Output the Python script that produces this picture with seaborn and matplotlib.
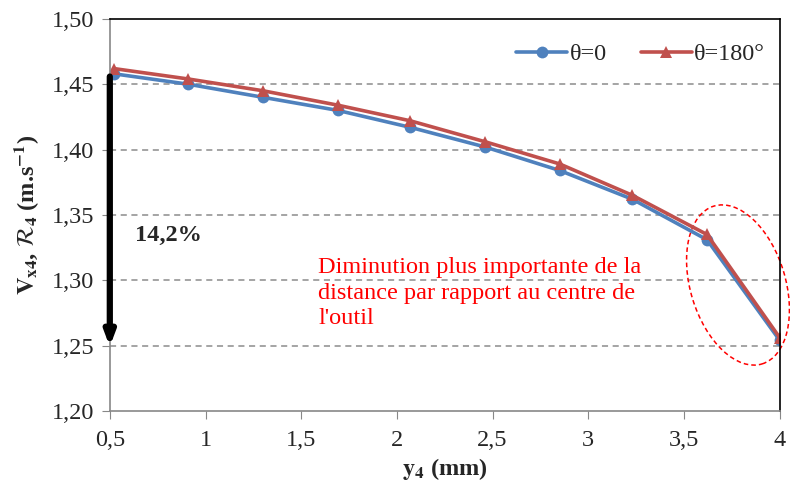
import matplotlib
matplotlib.use("Agg")
import matplotlib.pyplot as plt
import seaborn as sns
import pandas as pd
from matplotlib.patches import Ellipse
from matplotlib.ticker import FuncFormatter

y4 = [0.52, 0.91, 1.30, 1.69, 2.07, 2.46, 2.85, 3.23, 3.62, 4.00]
theta0 = [1.458, 1.450, 1.440, 1.430, 1.417, 1.402, 1.384, 1.362, 1.331, 1.254]
theta180 = [1.462, 1.454, 1.445, 1.434, 1.422, 1.406, 1.389, 1.365, 1.335, 1.256]
series_names = ["θ=0", "θ=180°"]
x_ticks = [0.5, 1, 1.5, 2, 2.5, 3, 3.5, 4]
y_ticks = [1.20, 1.25, 1.30, 1.35, 1.40, 1.45, 1.50]

df = pd.DataFrame({
    "y4": y4 * 2,
    "v": theta0 + theta180,
    "serie": [series_names[0]] * len(y4) + [series_names[1]] * len(y4),
})

sns.set_style("white")
plt.rcParams["font.family"] = ["Liberation Serif", "DejaVu Serif"]
plt.rcParams["mathtext.fontset"] = "stix"

FS = 17.5
fig = plt.figure(figsize=(7.9, 4.84), dpi=100)
ax = fig.add_axes([0.139, 0.151, 0.848, 0.810])

palette = {series_names[0]: "#4F81BD", series_names[1]: "#C0504D"}
sns.lineplot(data=df, x="y4", y="v", hue="serie", style="serie",
             markers={series_names[0]: "o", series_names[1]: "^"},
             dashes=False, palette=palette, linewidth=2.6, markersize=8.5,
             markeredgewidth=0, ax=ax)

ax.set_xlim(0.5, 4)
ax.set_ylim(1.20, 1.50)
ax.set_xticks(x_ticks)
ax.set_yticks(y_ticks)
fmt = lambda v, p: (f"{v:g}").replace(".", ",")
ax.xaxis.set_major_formatter(FuncFormatter(fmt))
ax.yaxis.set_major_formatter(FuncFormatter(lambda v, p: f"{v:.2f}".replace(".", ",")))
ax.tick_params(axis="both", labelsize=FS, length=6, color="#888888", direction="out",
               bottom=True, left=True)
ax.tick_params(axis="x", pad=8)
ax.tick_params(axis="y", pad=5)

for yv in y_ticks[1:-1]:
    ax.axhline(yv, color="#8c8c8c", linestyle=(0, (4, 3)), linewidth=1.1, zorder=0)

for s in ["left", "bottom"]:
    ax.spines[s].set_color("#888888")
    ax.spines[s].set_linewidth(1.2)
for s in ["top", "right"]:
    ax.spines[s].set_color("black")
    ax.spines[s].set_linewidth(1.2)

ax.set_xlabel(r"$\mathbf{y_4}$ (mm)", fontsize=FS, fontweight="bold", labelpad=3)
ax.set_ylabel(r"$\mathbf{V_{x4}}$, $\mathcal{R}_\mathbf{4}$ (m.s$^\mathbf{-1}$)",
              fontsize=FS, fontweight="bold", labelpad=8)

ax.annotate("", xy=(0.5, 1.247), xytext=(0.5, 1.458),
            arrowprops=dict(arrowstyle="-|>,head_width=0.3,head_length=0.8",
                            color="black", lw=4.5), annotation_clip=False)
ax.text(0.63, 1.334, "14,2%", fontsize=FS, fontweight="bold", ha="left", va="center")

ax.text(1.59, 1.318, "Diminution plus importante de la\ndistance par rapport au centre de\nl'outil",
        color="#FF0000", fontsize=FS, ha="left", va="top", linespacing=1.3)

ell = Ellipse((7.38, 1.99), width=0.95, height=1.65, angle=17,
              fill=False, edgecolor="#FF0000", linestyle=(0, (3, 2)), linewidth=1.1,
              transform=fig.dpi_scale_trans, clip_on=False)
ax.add_patch(ell)

leg = ax.legend(loc="upper right", ncol=2, frameon=False, fontsize=FS,
                bbox_to_anchor=(1.0, 0.975), handlelength=2.1, columnspacing=1.4,
                handletextpad=0.1, borderaxespad=0.2)

fig.savefig("out.png", dpi=100)
